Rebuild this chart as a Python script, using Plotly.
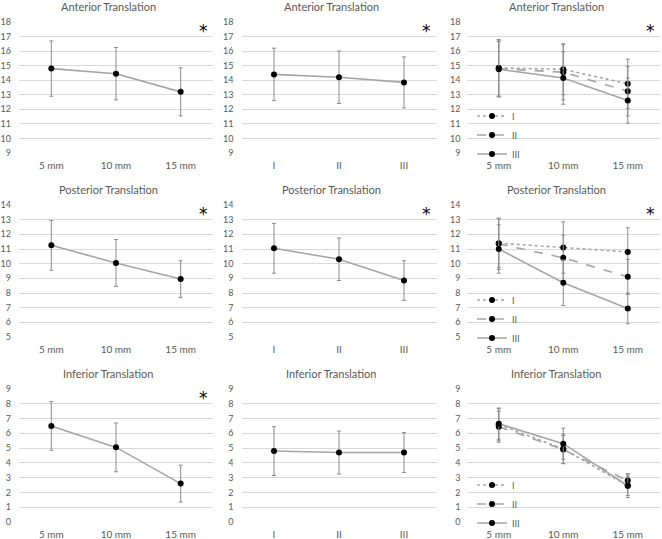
import plotly.graph_objects as go

W, H = 662, 539

x_mm = ["5 mm", "10 mm", "15 mm"]
x_grade = ["I", "II", "III"]

ant_mm = [14.8, 14.45, 13.2]
ant_mm_sd = [1.9, 1.8, 1.65]
ant_grade = [14.4, 14.2, 13.85]
ant_grade_sd = [1.8, 1.8, 1.75]
ant_I = [14.85, 14.75, 13.75]
ant_I_sd = [1.95, 1.75, 1.7]
ant_II = [14.8, 14.55, 13.25]
ant_II_sd = [1.9, 1.9, 1.7]
ant_III = [14.75, 14.15, 12.6]
ant_III_sd = [1.9, 1.8, 1.55]

post_mm = [11.25, 10.05, 8.95]
post_mm_sd = [1.7, 1.6, 1.25]
post_grade = [11.05, 10.3, 8.85]
post_grade_sd = [1.7, 1.45, 1.35]
post_I = [11.4, 11.1, 10.8]
post_I_sd = [1.65, 1.75, 1.65]
post_II = [11.35, 10.4, 9.1]
post_II_sd = [1.75, 1.55, 1.2]
post_III = [11.0, 8.7, 6.95]
post_III_sd = [1.65, 1.55, 1.05]

inf_mm = [6.5, 5.05, 2.6]
inf_mm_sd = [1.65, 1.65, 1.25]
inf_grade = [4.8, 4.7, 4.7]
inf_grade_sd = [1.65, 1.45, 1.35]
inf_I = [6.6, 4.95, 2.45]
inf_I_sd = [1.1, 1.0, 0.8]
inf_II = [6.45, 4.9, 2.8]
inf_II_sd = [1.05, 0.95, 0.45]
inf_III = [6.65, 5.3, 2.45]
inf_III_sd = [1.05, 1.05, 0.65]

titles = ["Anterior Translation", "Posterior Translation", "Inferior Translation"]
y_ranges = [[9, 18], [5, 14], [0, 9]]
starred = [[True, True, True], [True, True, True], [True, False, False]]

# pixel boxes of the plot areas
col_px = [(19, 213), (241.5, 436.5), (466.5, 660)]
row_px = [(22, 153), (205, 337), (389, 522)]
title_cx = [108, 331, 556]

LINE = "#a5a5a5"
ERR = "#8c8c8c"
TEXT = "#595959"
GRID = "#d9d9d9"
FONT = "Lato, sans-serif"


def px_x(v):
    return v / W


def px_y(v):
    return 1 - v / H


fig = go.Figure()

single = [
    [(x_mm, ant_mm, ant_mm_sd), (x_grade, ant_grade, ant_grade_sd)],
    [(x_mm, post_mm, post_mm_sd), (x_grade, post_grade, post_grade_sd)],
    [(x_mm, inf_mm, inf_mm_sd), (x_grade, inf_grade, inf_grade_sd)],
]
combined = [
    [(ant_I, ant_I_sd), (ant_II, ant_II_sd), (ant_III, ant_III_sd)],
    [(post_I, post_I_sd), (post_II, post_II_sd), (post_III, post_III_sd)],
    [(inf_I, inf_I_sd), (inf_II, inf_II_sd), (inf_III, inf_III_sd)],
]
dashes = ["dot", "dash", "solid"]
names = ["I", "II", "III"]

layout = {}
annotations = []
for r in range(3):
    for c in range(3):
        idx = r * 3 + c + 1
        sfx = "" if idx == 1 else str(idx)
        xa, ya = "x" + sfx, "y" + sfx
        x0, x1 = col_px[c]
        y0, y1 = row_px[r]
        layout["xaxis" + sfx] = dict(
            domain=[px_x(x0), px_x(x1)], anchor=ya, range=[-0.5, 2.5],
            showgrid=False, showline=False, zeroline=False, ticks="", automargin=False,
            tickfont=dict(size=10, color=TEXT, family=FONT), ticklabelstandoff=5,
        )
        layout["yaxis" + sfx] = dict(
            domain=[px_y(y1), px_y(y0)], anchor=xa, range=y_ranges[r], dtick=1,
            showgrid=True, gridcolor=GRID, gridwidth=1, showline=False, automargin=False,
            zeroline=False, ticks="", tickfont=dict(size=9, color=TEXT, family=FONT),
            ticklabelstandoff=7 if c < 2 else 5,
        )
        if c < 2:
            xs, ys, sd = single[r][c]
            fig.add_trace(go.Scatter(
                x=xs, y=ys, xaxis=xa, yaxis=ya, mode="lines+markers", showlegend=False,
                line=dict(color=LINE, width=1.6),
                marker=dict(color="black", size=6),
                error_y=dict(type="data", array=sd, color=ERR, thickness=1, width=2),
            ))
        else:
            leg = "legend" if r == 0 else "legend" + str(r + 1)
            for k, (ys, sd) in enumerate(combined[r]):
                fig.add_trace(go.Scatter(
                    x=x_mm, y=ys, xaxis=xa, yaxis=ya, mode="lines+markers",
                    name=names[k], legend=leg,
                    line=dict(color=LINE, width=1.6, dash=dashes[k]),
                    marker=dict(color="black", size=6),
                    error_y=dict(type="data", array=sd, color=ERR, thickness=1, width=2),
                ))
            layout[leg] = dict(
                x=px_x(472), y=px_y(y1 - 18), xanchor="left", yanchor="middle",
                bgcolor="rgba(0,0,0,0)", font=dict(size=9, color=TEXT, family=FONT),
                itemwidth=30, tracegroupgap=0,
            )
        annotations.append(dict(
            text=titles[r], xref="paper", yref="paper", x=px_x(title_cx[c]),
            y=px_y(y0 - 7), xanchor="center", yanchor="bottom", showarrow=False,
            font=dict(size=11, color=TEXT, family=FONT),
        ))
        if starred[r][c]:
            annotations.append(dict(
                text="*", xref="paper", yref="paper", x=px_x(x1 - 10),
                y=px_y(y0 + 9), xanchor="center", yanchor="middle", showarrow=False,
                font=dict(size=17, color="black", family="DejaVu Sans"),
            ))

fig.update_layout(
    **layout,
    annotations=annotations,
    width=W, height=H,
    margin=dict(l=0, r=0, t=0, b=0, autoexpand=False),
    paper_bgcolor="white", plot_bgcolor="white",
    font=dict(family=FONT, color=TEXT),
)

fig.write_html(
    "out.html",
    config={"displayModeBar": False},
    post_script="document.body.style.margin = '0';",
)
